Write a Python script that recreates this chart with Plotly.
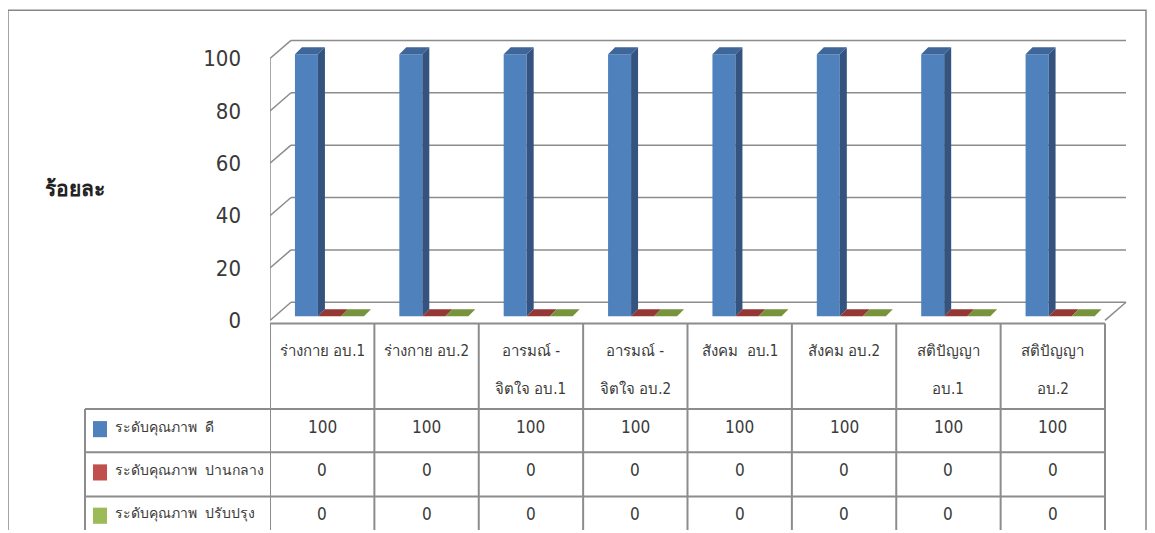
import plotly.graph_objects as go

# data
categories = ["ร่างกาย อบ.1", "ร่างกาย อบ.2", "อารมณ์ -\nจิตใจ อบ.1", "อารมณ์ -\nจิตใจ อบ.2",
              "สังคม  อบ.1", "สังคม อบ.2", "สติปัญญา\nอบ.1", "สติปัญญา\nอบ.2"]
series_names = ["ระดับคุณภาพ  ดี", "ระดับคุณภาพ  ปานกลาง", "ระดับคุณภาพ  ปรับปรุง"]
good = [100, 100, 100, 100, 100, 100, 100, 100]
medium = [0, 0, 0, 0, 0, 0, 0, 0]
improve = [0, 0, 0, 0, 0, 0, 0, 0]
y_ticks = [0, 20, 40, 60, 80, 100]
y_title = "ร้อยละ"

front_colors = ["#4F81BD", "#C0504D", "#9BBB59"]
side_colors = ["#34547F", "#7E3533", "#677D3B"]
top_colors = ["#3F6698", "#953735", "#77933C"]

# page has an 8px body margin and the capture squeezes the height a little
PAD = 8
VS = 546 / 533
W, H = 1155 - 2 * PAD, 531
X0, X1 = 270, 1105            # front edge of the plot floor (window px)
XU = (X1 - X0) / len(categories)
Y0PX, YU = 318, 2.6           # window px of value 0, px per unit
WALL_DX, WALL_DY = 21 / XU, 18 / YU
BAR_DX, BAR_DY = 7 / XU, 7 / YU
BASE_DX, BASE_DY = 2 / XU, 1.6
BAR_W = 23 / XU
offsets = [-0.17, -0.17 + BAR_W, -0.17 + 2 * BAR_W]

GRID = "#8C8C8C"
TXT = "#3A3A3A"
FONT = "Liberation Sans Narrow, DejaVu Sans Condensed, Roboto Condensed, Noto Sans, sans-serif"


def px(p):
    return (p - PAD) / W


def py(p):
    return 1 - (p * VS - PAD) / H


fig = go.Figure()
n = len(categories)
xs = list(range(n))

for k, vals in enumerate([good, medium, improve]):
    xc = [i + offsets[k] + BASE_DX for i in xs]
    fig.add_trace(go.Bar(x=xc, y=vals, base=BASE_DY, width=BAR_W,
                         marker=dict(color=front_colors[k], line=dict(width=0)),
                         name=series_names[k], hoverinfo="skip"))
    sx, sy, tx, ty = [], [], [], []
    for x, v in zip(xc, vals):
        a, b = x - BAR_W / 2, x + BAR_W / 2
        top = v + BASE_DY
        sx += [b, b + BAR_DX, b + BAR_DX, b, b, None]
        sy += [BASE_DY, BASE_DY + BAR_DY, top + BAR_DY, top, BASE_DY, None]
        tx += [a, a + BAR_DX, b + BAR_DX, b, a, None]
        ty += [top, top + BAR_DY, top + BAR_DY, top, top, None]
    fig.add_trace(go.Scatter(x=sx, y=sy, fill="toself", fillcolor=side_colors[k], mode="lines",
                             line=dict(width=0), hoverinfo="skip", showlegend=False))
    fig.add_trace(go.Scatter(x=tx, y=ty, fill="toself", fillcolor=top_colors[k], mode="lines",
                             line=dict(width=0), hoverinfo="skip", showlegend=False))

shapes = []
left, right = -0.5, n - 0.5
# back wall gridlines and side wall
for v in y_ticks:
    shapes.append(dict(type="line", xref="x", yref="y", x0=left + WALL_DX, x1=right + WALL_DX,
                       y0=v + WALL_DY, y1=v + WALL_DY, line=dict(color=GRID, width=1.5), layer="below"))
    shapes.append(dict(type="line", xref="x", yref="y", x0=left, x1=left + WALL_DX,
                       y0=v, y1=v + WALL_DY, line=dict(color=GRID, width=1.5), layer="below"))
shapes.append(dict(type="line", xref="x", yref="y", x0=left, x1=left, y0=0, y1=y_ticks[-1],
                   line=dict(color=GRID, width=1.5), layer="below"))
shapes.append(dict(type="line", xref="x", yref="y", x0=right, x1=right + WALL_DX, y0=0, y1=WALL_DY,
                   line=dict(color=GRID, width=1.5), layer="below"))

# data table grid
row_px = [321, 406, 449, 493]
for k, p in enumerate(row_px):
    shapes.append(dict(type="line", xref="paper", yref="paper",
                       x0=px(X0 if k == 0 else 85), x1=px(X1), y0=py(p), y1=py(p),
                       line=dict(color=GRID, width=2)))
for i in range(n + 1):
    shapes.append(dict(type="line", xref="x", yref="paper", x0=i - 0.5, x1=i - 0.5,
                       y0=py(321), y1=0, line=dict(color=GRID, width=2)))
shapes.append(dict(type="line", xref="paper", yref="paper", x0=px(85), x1=px(85),
                   y0=py(406), y1=0, line=dict(color=GRID, width=2)))
# chart border
shapes.append(dict(type="path", xref="paper", yref="paper",
                   path=f"M {px(8)} 0 L {px(8)} {py(10)} L {px(1146)} {py(10)} L {px(1146)} 0",
                   line=dict(color="#868686", width=1.5)))

annotations = []
for i, c in enumerate(categories):
    for j, part in enumerate(c.split("\n")):
        annotations.append(dict(x=i, y=py(348 + 38 * j), xref="x", yref="paper", text=part,
                                xanchor="center", yanchor="middle",
                                showarrow=False, font=dict(size=15, color=TXT)))
row_mid = [426, 469, 512]
for k, vals in enumerate([good, medium, improve]):
    shapes.append(dict(type="rect", xref="paper", yref="paper", x0=px(93), x1=px(107),
                       y0=py(row_mid[k] - 8), y1=py(row_mid[k] + 8),
                       fillcolor=front_colors[k], line=dict(width=0)))
    annotations.append(dict(x=px(113), y=py(row_mid[k] - 2), xref="paper", yref="paper",
                            xanchor="left", yanchor="middle", text=series_names[k], showarrow=False,
                            font=dict(size=14, color=TXT)))
    for i, v in enumerate(vals):
        annotations.append(dict(x=i, y=py(row_mid[k] - 2), xref="x", yref="paper", text=str(v),
                                xanchor="center", yanchor="middle",
                                showarrow=False, font=dict(size=17, color=TXT)))
annotations.append(dict(x=px(75), y=py(188), xref="paper", yref="paper", text=f"<b>{y_title}</b>",
                        xanchor="center", yanchor="middle",
                        showarrow=False, font=dict(size=21, color="#222222")))

x_right = 1135
x_range = [left, left + (x_right - X0) / XU]
y_lo = (Y0PX - 322) / YU
y_hi = (Y0PX - 30) / YU

fig.update_layout(
    width=W, height=H,
    margin=dict(l=0, r=0, t=0, b=0),
    paper_bgcolor="white", plot_bgcolor="rgba(0,0,0,0)",
    font=dict(family=FONT, color=TXT),
    showlegend=False, barmode="overlay",
    xaxis=dict(domain=[px(X0), px(x_right)], range=x_range, visible=False),
    yaxis=dict(domain=[py(322), py(30)], range=[y_lo, y_hi], tickvals=y_ticks,
               showgrid=False, zeroline=False, showline=False, ticks="",
               ticklabelstandoff=28, tickfont=dict(size=22, color=TXT)),
    shapes=shapes, annotations=annotations,
)

fig.write_html("out.html")
